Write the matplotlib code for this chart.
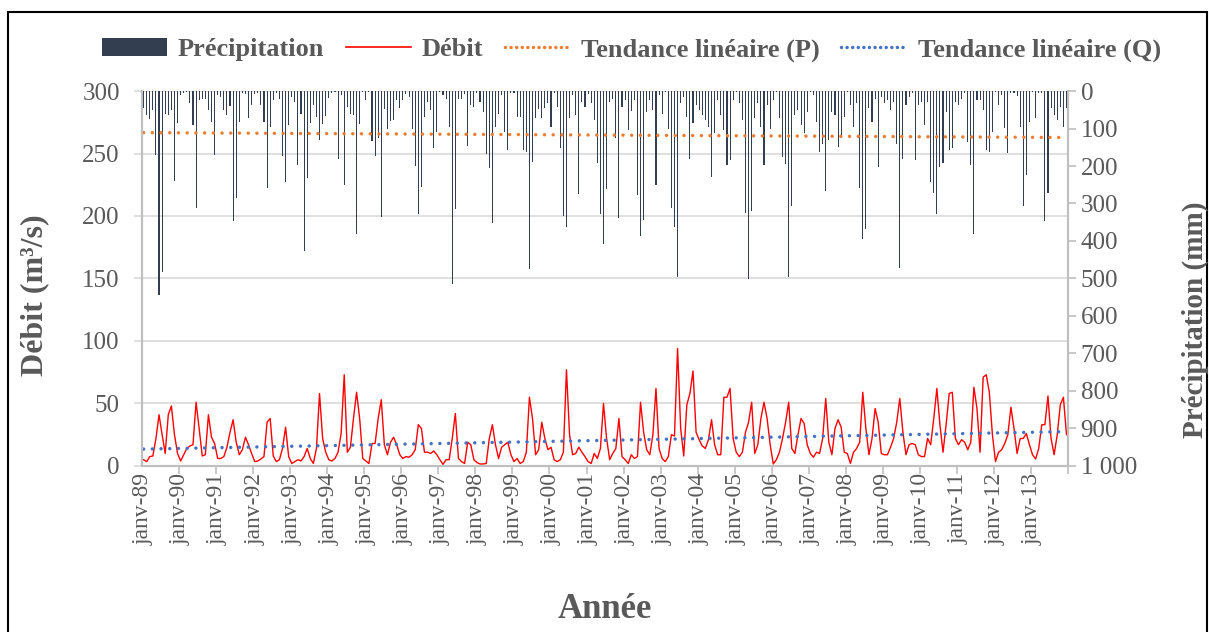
import matplotlib

matplotlib.use("Agg")
import matplotlib.pyplot as plt
import numpy as np
from matplotlib.patches import Patch, Rectangle
from matplotlib.lines import Line2D
from matplotlib.ticker import FixedLocator, FuncFormatter

plt.rcParams["font.family"] = ["Liberation Serif", "DejaVu Serif"]

YEARS = list(range(1989, 2014))

# monthly precipitation (mm), one row per year
PRECIP_MM = [
    [46, 64, 75, 51, 171, 544, 482, 60, 64, 51, 239, 86],
    [11, 4, 2, 33, 91, 311, 24, 20, 20, 51, 82, 171],
    [11, 15, 51, 64, 40, 348, 286, 82, 6, 9, 71, 37],
    [9, 4, 37, 82, 260, 95, 24, 4, 20, 173, 242, 91],
    [15, 28, 197, 60, 428, 231, 86, 37, 68, 131, 89, 66],
    [18, 4, 2, 180, 10, 251, 42, 60, 64, 381, 89, 2],
    [24, 2, 133, 172, 126, 335, 48, 100, 80, 77, 24, 44],
    [24, 9, 15, 101, 200, 329, 255, 68, 30, 51, 153, 108],
    [2, 11, 20, 95, 515, 315, 20, 20, 9, 147, 37, 42],
    [6, 30, 55, 169, 204, 353, 95, 60, 11, 108, 156, 4],
    [6, 68, 68, 157, 162, 476, 190, 73, 48, 73, 46, 33],
    [95, 6, 42, 153, 333, 364, 73, 11, 64, 275, 28, 42],
    [9, 33, 77, 193, 328, 407, 262, 28, 20, 126, 338, 42],
    [24, 104, 53, 24, 277, 388, 344, 55, 24, 51, 251, 11],
    [60, 2, 100, 311, 362, 495, 33, 15, 68, 180, 86, 37],
    [51, 64, 77, 95, 228, 113, 24, 64, 104, 197, 184, 24],
    [2, 33, 77, 326, 502, 320, 73, 33, 95, 197, 37, 100],
    [24, 2, 73, 175, 195, 497, 308, 64, 51, 91, 113, 55],
    [2, 11, 82, 162, 140, 267, 131, 55, 64, 148, 126, 68],
    [2, 37, 95, 33, 260, 395, 369, 46, 82, 20, 202, 15],
    [33, 24, 51, 28, 142, 471, 181, 36, 15, 6, 184, 37],
    [28, 91, 28, 244, 273, 329, 202, 193, 55, 157, 153, 28],
    [37, 20, 6, 135, 197, 382, 24, 24, 51, 157, 162, 108],
    [2, 36, 11, 98, 166, 6, 6, 12, 95, 306, 224, 82],
    [2, 73, 6, 6, 348, 273, 46, 64, 77, 42, 95, 46],
]

# monthly discharge (m3/s)
DEBIT = [
    [5, 3.5, 7.5, 8, 22, 41, 25, 10, 41, 48, 25, 10],
    [4, 9, 14, 16, 17, 51, 30, 8, 9, 41, 23, 18],
    [6, 6, 7.5, 15, 27, 37, 19, 9, 13, 23, 17, 10],
    [3.5, 4, 5.6, 7.5, 35, 38, 8, 3.5, 5, 14, 31, 7.5],
    [2, 3.5, 5, 4, 7.5, 14, 6, 2, 14, 58, 22, 11],
    [5, 4, 6, 11, 26, 73, 11, 15, 38, 59, 38, 6],
    [4, 2, 18, 18, 38, 53, 17, 9, 19, 23, 17, 9],
    [6, 7.5, 7, 9, 13, 33, 30, 11, 11, 10, 12, 9],
    [5, 1.3, 5, 5, 22, 42, 6, 3.5, 2, 19, 17, 5],
    [2.7, 1.6, 1.6, 2, 22, 33, 17, 6, 15, 17, 19, 9],
    [3.5, 6, 2, 3.5, 11, 55, 38, 9, 13, 35, 22, 13],
    [15, 5, 3.5, 5, 11, 77, 25, 9, 10, 15, 11, 7.5],
    [3.5, 2, 10, 6, 14, 50, 22, 5, 10, 14, 38, 7.5],
    [5, 2, 9, 6, 7.5, 51, 27, 13, 9, 25, 62, 14],
    [6, 3.5, 7.5, 25, 24, 94, 30, 8, 49, 58, 76, 27],
    [21, 16, 14, 21, 37, 17, 9, 9, 55, 55, 62, 22],
    [11, 7.5, 11, 27, 35, 51, 10, 17, 38, 51, 38, 17],
    [1.6, 5, 11, 22, 35, 51, 14, 10, 25, 38, 34, 17],
    [10, 7, 11, 10, 22, 54, 19, 9, 30, 37, 31, 11],
    [10, 2, 11, 14, 19, 59, 30, 9, 22, 46, 35, 10],
    [9, 9, 15, 22, 35, 54, 27, 9, 17, 18, 17, 9],
    [7.5, 7.5, 22, 17, 38, 62, 33, 11, 33, 58, 59, 22],
    [17, 21, 19, 13, 19, 63, 46, 11, 71, 73, 59, 25],
    [3.5, 11, 13, 18, 25, 47, 30, 10, 22, 22, 26, 17],
    [9, 5.6, 14, 33, 33, 56, 22, 9, 25, 49, 55, 25],
]

# linear trend end values
TREND_P = [111, 124]
TREND_Q = [13.5, 27.5]

GREY = "#595959"
AXIS_GREY = "#bfbfbf"

precip = np.array(PRECIP_MM, dtype=float).ravel()
debit = np.array(DEBIT, dtype=float).ravel()
months = np.arange(len(precip))
tick_labels = [f"janv-{y % 100:02d}" for y in YEARS]

fig = plt.figure(figsize=(12.09, 6.32), dpi=100)
ax1 = fig.add_axes([0.1175, 0.2627, 0.7659, 0.5933])
ax2 = ax1.twinx()

ax1.plot(months, debit, color="#ff0000", lw=1.0, zorder=3)
ax1.plot([months[0], months[-1]], TREND_Q, color="#4472c4", lw=2.5,
         linestyle=(0, (0.01, 2.5)), dash_capstyle="round", zorder=4)

ax2.bar(months, precip, width=0.35, bottom=0, color="#333f50", linewidth=0)
ax2.plot([months[0], months[-1]], TREND_P, color="#ed7d31", lw=2.5,
         linestyle=(0, (0.01, 2.5)), dash_capstyle="round")

ax1.set_xlim(-0.5, len(months) - 0.5)
ax1.set_ylim(0, 300)
ax1.set_yticks(np.arange(0, 301, 50))
ax2.set_ylim(1000, 0)
ax2.set_yticks(np.arange(0, 1001, 100))
ax2.yaxis.set_major_formatter(FuncFormatter(lambda v, _: f"{v:,.0f}".replace(",", " ")))

ax1.grid(axis="y", color="#d9d9d9", lw=1.2)
ax1.set_axisbelow(True)

ax1.set_xticks(months[::12])
ax1.set_xticklabels(tick_labels, rotation=90, fontsize=17, color=GREY)
ax1.xaxis.set_minor_locator(FixedLocator(np.arange(11.5, len(months), 12)))
ax1.tick_params(axis="x", which="major", length=0, pad=5)
ax1.tick_params(axis="x", which="minor", length=6, color=AXIS_GREY, width=1.2)
ax1.tick_params(axis="y", length=6, color="#d9d9d9", width=1.2, labelsize=18, labelcolor=GREY, pad=10)
ax2.tick_params(axis="y", length=6, color=AXIS_GREY, width=1.2, labelsize=18, labelcolor=GREY, pad=3)

for ax in (ax1, ax2):
    ax.spines["top"].set_visible(False)
    for side in ("left", "right", "bottom"):
        ax.spines[side].set_color(AXIS_GREY)
        ax.spines[side].set_linewidth(1.5)

fig.text(35 / 1209, 1 - 295 / 632, "Débit (m³/s)", rotation=90, ha="center", va="center",
         fontsize=23, fontweight="bold", color=GREY)
fig.text(1195 / 1209, 1 - 320 / 632, "Précipitation (mm)", rotation=90, ha="center", va="center",
         fontsize=21, fontweight="bold", color=GREY)
fig.text(605 / 1209, 1 - 610 / 632, "Année", ha="center", va="center",
         fontsize=25, fontweight="bold", color=GREY)

handles = [
    Patch(facecolor="#333f50", edgecolor="none"),
    Line2D([], [], color="#ff0000", lw=1.2),
    Line2D([], [], color="#ed7d31", lw=2.5, linestyle=(0, (0.01, 1.6)), dash_capstyle="round"),
    Line2D([], [], color="#4472c4", lw=2.5, linestyle=(0, (0.01, 1.6)), dash_capstyle="round"),
]
labels = ["Précipitation", "Débit", "Tendance linéaire (P)", "Tendance linéaire (Q)"]
fig.legend(handles, labels, loc="center", bbox_to_anchor=(0.522, 0.921), ncol=4,
           frameon=False, handlelength=2.5, handletextpad=0.4, columnspacing=0.8,
           prop={"weight": "bold", "size": 19}, labelcolor=GREY)

fig.add_artist(Rectangle((8 / 1209, -0.1), 1199 / 1209, 1.1 - 12 / 632, fill=False,
                         edgecolor="black", lw=1.5, transform=fig.transFigure))

fig.savefig("out.png", dpi=100)
